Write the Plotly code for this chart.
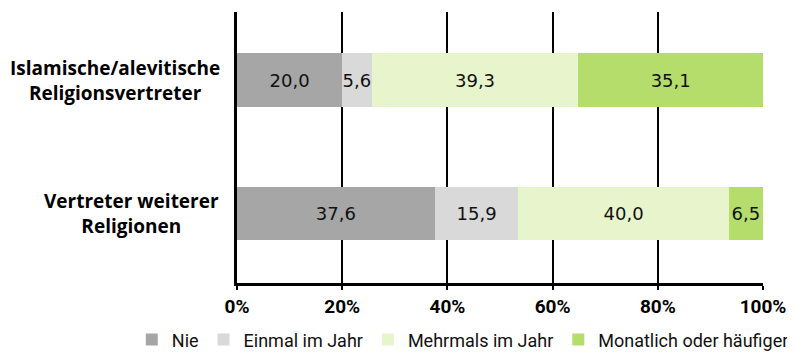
import plotly.graph_objects as go

categories = ["Islamische/alevitische<br>Religionsvertreter", "Vertreter weiterer<br>Religionen"]
series_names = ["Nie", "Einmal im Jahr", "Mehrmals im Jahr", "Monatlich oder häufiger"]
nie = [20.0, 37.6]
einmal = [5.6, 15.9]
mehrmals = [39.3, 40.0]
monatlich = [35.1, 6.5]
tick_vals = [0, 20, 40, 60, 80, 100]
tick_text = ["0%", "20%", "40%", "60%", "80%", "100%"]

colors = ["#a6a6a6", "#d9d9d9", "#e8f5cc", "#b5dd6b"]
font = "Roboto"

fig = go.Figure()
for name, vals, col in zip(series_names, [nie, einmal, mehrmals, monatlich], colors):
    fig.add_trace(go.Bar(
        y=categories, x=vals, name=name, orientation="h",
        marker=dict(color=col, line=dict(width=0)),
        texttemplate="%{x:.1f}", textposition="inside", insidetextanchor="middle",
        constraintext="none", textangle=0,
        textfont=dict(color="#111111", size=18, family="DejaVu Sans"),
        width=0.40,
    ))

# category labels as centred two-line blocks to the left of the axis
for c, xs in zip(categories, [-15, -16]):
    fig.add_annotation(x=0, xref="paper", xanchor="right", xshift=xs, y=c, yref="y",
                       yanchor="middle", text="<b>" + c + "</b>", showarrow=False,
                       align="center",
                       font=dict(size=19, family="Open Sans", color="#000"))

# page body adds an 8px offset; figure sized so the visible part fills the window
fig.update_layout(
    barmode="stack",
    width=787, height=356,
    margin=dict(l=229, r=32, t=4, b=81),
    paper_bgcolor="white", plot_bgcolor="white",
    separators=",.",
    showlegend=True,
    legend=dict(orientation="h", x=-0.2, xanchor="left", y=-0.21, yanchor="middle",
                font=dict(size=18, family=font, color="#111"), traceorder="normal",
                itemwidth=30, tracegroupgap=0, borderwidth=0),
    xaxis=dict(range=[0, 100], tickvals=tick_vals, ticktext=tick_text,
               showgrid=True, gridcolor="black", gridwidth=2,
               showline=True, linecolor="black", linewidth=3,
               ticks="outside", ticklen=4, tickwidth=2, tickcolor="black",
               tickfont=dict(size=19, family=font, color="#000", weight="bold"),
               zeroline=False, fixedrange=True),
    yaxis=dict(showticklabels=False, showgrid=False,
               showline=True, linecolor="black", linewidth=3, zeroline=False,
               range=[1.52, -0.51], autorange=False, ticks=""),
)

fig.write_html("out.html")
